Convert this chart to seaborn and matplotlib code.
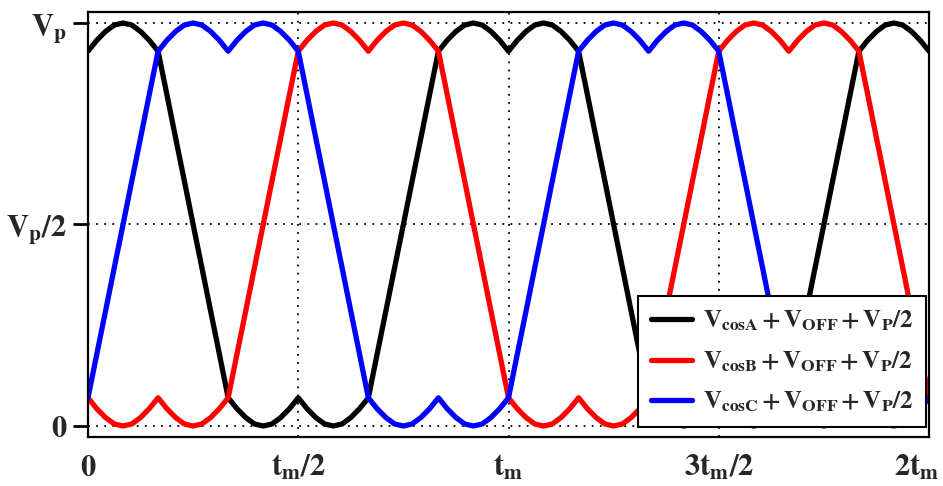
import numpy as np
import pandas as pd
import matplotlib
matplotlib.use("Agg")
import matplotlib.pyplot as plt
import matplotlib.transforms as mtransforms
import seaborn as sns

# ---- data (units: Vp, time in tm) ----
# one period of phase A sampled every tm/48
period_values = [0.93, 0.957, 0.979, 0.995, 1.000, 0.995, 0.979, 0.957,
                 0.93, 0.823, 0.715, 0.608, 0.50, 0.393, 0.285, 0.178,
                 0.07, 0.043, 0.021, 0.005, 0.0, 0.005, 0.021, 0.043,
                 0.07, 0.043, 0.021, 0.005, 0.0, 0.005, 0.021, 0.043,
                 0.07, 0.178, 0.285, 0.393, 0.50, 0.608, 0.715, 0.823,
                 0.93, 0.957, 0.979, 0.995, 1.000, 0.995, 0.979, 0.957]
samples_per_period = 48
n_periods = 2
# phase delays (in samples) of B and C relative to A
phase_delay = {"A": 0, "B": 32, "C": 16}
series_labels = {
    "A": r"$\mathbf{V}_\mathbf{cosA}\,\mathbf{+}\,\mathbf{V}_\mathbf{OFF}\,\mathbf{+}\,\mathbf{V}_\mathbf{P}\mathbf{/2}$",
    "B": r"$\mathbf{V}_\mathbf{cosB}\,\mathbf{+}\,\mathbf{V}_\mathbf{OFF}\,\mathbf{+}\,\mathbf{V}_\mathbf{P}\mathbf{/2}$",
    "C": r"$\mathbf{V}_\mathbf{cosC}\,\mathbf{+}\,\mathbf{V}_\mathbf{OFF}\,\mathbf{+}\,\mathbf{V}_\mathbf{P}\mathbf{/2}$",
}
x_ticks = [0, 0.5, 1.0, 1.5, 2.0]
x_ticklabels = [r"$\mathbf{0}$", r"$\mathbf{t}_\mathbf{m}\mathbf{/2}$", r"$\mathbf{t}_\mathbf{m}$",
                r"$\mathbf{3t}_\mathbf{m}\mathbf{/2}$", r"$\mathbf{2t}_\mathbf{m}$"]
y_ticks = [0, 0.5, 1.0]
y_ticklabels = [r"$\mathbf{0}$", r"$\mathbf{V}_\mathbf{p}\mathbf{/2}$", r"$\mathbf{V}_\mathbf{p}$"]

# ---- build long-form table ----
base = np.array(period_values)
n = samples_per_period * n_periods + 1
idx = np.arange(n)
t = idx / samples_per_period
rows = []
for ph, d in phase_delay.items():
    vals = base[(idx - d) % samples_per_period]
    rows.append(pd.DataFrame({"t": t, "v": vals, "phase": series_labels[ph]}))
df = pd.concat(rows, ignore_index=True)

# ---- style ----
sns.set_theme(style="white")
plt.rcParams["font.family"] = ["Liberation Serif", "DejaVu Serif"]
plt.rcParams["mathtext.fontset"] = "stix"

fig = plt.figure(figsize=(9.43, 4.86), dpi=100)
ax = fig.add_axes([88 / 943, 49 / 486, 841 / 943, 425 / 486])

palette = {series_labels["A"]: "#000000", series_labels["B"]: "#ff0000", series_labels["C"]: "#0000ff"}
sns.lineplot(data=df, x="t", y="v", hue="phase", palette=palette, linewidth=3.8,
             ax=ax, legend=True, estimator=None, sort=False)

ax.set_xlim(0, 2)
ax.set_ylim(-11 / 403, 1 + 11 / 403)
ax.set_xticks(x_ticks)
ax.set_xticklabels(x_ticklabels, fontsize=22)
ax.set_yticks(y_ticks)
ax.set_yticklabels(y_ticklabels, fontsize=22)
ax.set_xlabel("")
ax.set_ylabel("")

for y in y_ticks:
    ax.axhline(y, color="black", lw=1.3, ls=(0, (1, 3.5)), zorder=0)
for x in x_ticks[1:-1]:
    ax.axvline(x, color="black", lw=1.3, ls=(0, (1, 3.5)), zorder=0)

for s in ax.spines.values():
    s.set_color("black")
    s.set_linewidth(1.6)
    s.set_visible(True)

ax.tick_params(axis="y", direction="out", length=11, width=2, color="black", pad=4, left=True)
ax.tick_params(axis="x", length=0, pad=12, bottom=False)

# shift last x label left so it stays inside the figure
lab = ax.get_xticklabels()[-1]
lab.set_transform(lab.get_transform() + mtransforms.ScaledTranslation(-12 / 100, 0, fig.dpi_scale_trans))

leg = ax.legend(loc="lower right", bbox_to_anchor=(0.997, 0.024), borderaxespad=0,
                fontsize=18, frameon=True, fancybox=False, framealpha=1,
                edgecolor="black", handlelength=1.65, labelspacing=0.65,
                handletextpad=0.45, borderpad=0.5)
leg.get_frame().set_linewidth(1.5)
for line in leg.get_lines():
    line.set_linewidth(3.8)

fig.savefig("out.png", dpi=100)
